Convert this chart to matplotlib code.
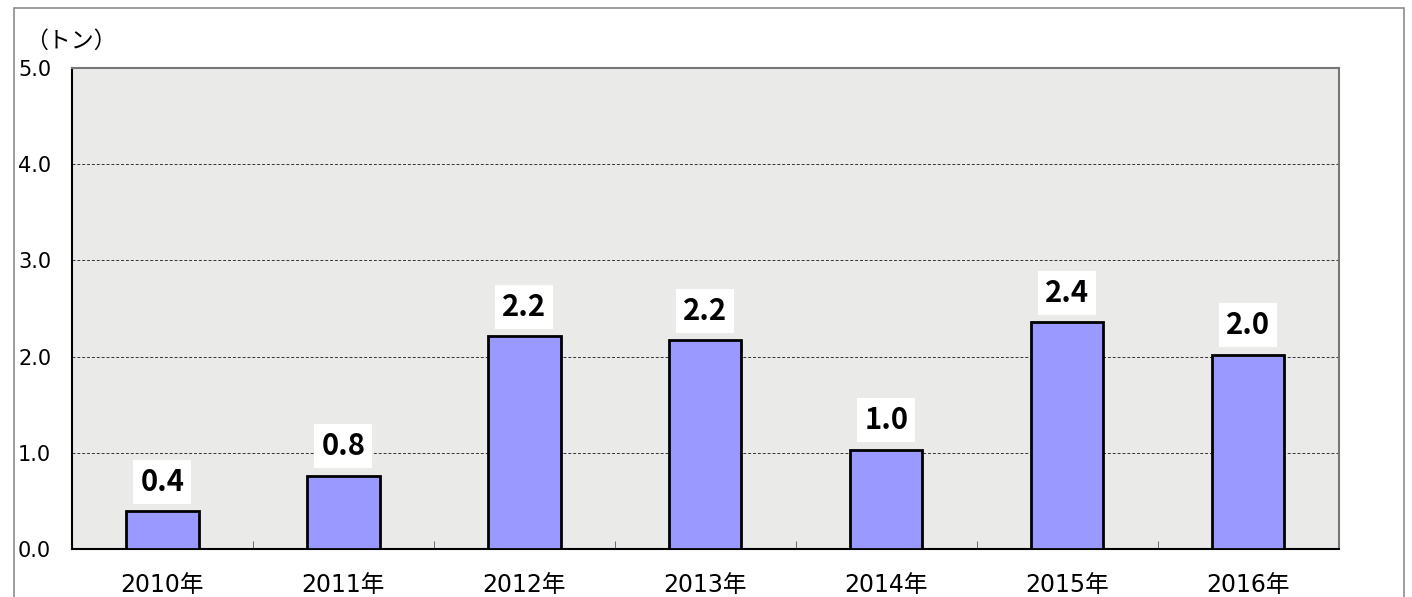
import matplotlib.pyplot as plt
import matplotlib.patches as patches
import numpy as np

plt.rcParams['font.family'] = ['DejaVu Sans', 'Noto Sans CJK JP']

# data
years = ['2010年', '2011年', '2012年', '2013年', '2014年', '2015年', '2016年']
tons = [0.39, 0.76, 2.21, 2.17, 1.03, 2.36, 2.02]
yticks = [0.0, 1.0, 2.0, 3.0, 4.0, 5.0]

fig = plt.figure(figsize=(14.12, 5.97), dpi=100)
ax = fig.add_axes([0.051, 0.0804, 0.897, 0.8057])
ax.set_facecolor('#eaeae8')

# outer frame
fig.patches.append(patches.Rectangle((14 / 1412, -0.1), 1390 / 1412, 1.087,
                                     transform=fig.transFigure, fill=False,
                                     edgecolor='#8c8c8c', linewidth=1.2))

x = np.arange(len(years))
ax.bar(x, tons, width=0.40, color='#9999ff', edgecolor='black', linewidth=2, zorder=3)

for xi, v in zip(x, tons):
    ax.text(xi, v + 0.15, f'{v:.1f}', ha='center', va='bottom', fontsize=21,
            fontweight='bold', family=['Noto Sans CJK JP', 'DejaVu Sans'], zorder=4,
            bbox=dict(facecolor='white', edgecolor='none', pad=5))

ax.set_xlim(-0.5, len(years) - 0.5)
ax.set_ylim(0, 5)
ax.set_yticks(yticks)
ax.set_yticklabels([f'{t:.1f}' for t in yticks], fontsize=15)
ax.set_xticks(x)
ax.set_xticklabels(years, fontsize=17)
ax.tick_params(axis='x', length=0, pad=17)
ax.tick_params(axis='y', length=0, pad=15)
ax.set_xticks(np.arange(0.5, len(years) - 1, 1), minor=True)
ax.tick_params(axis='x', which='minor', direction='in', length=6, color='#555555')

for t in yticks[1:-1]:
    ax.axhline(t, color='#333333', linestyle=(0, (3, 2)), linewidth=0.7, zorder=2)

for side in ['left', 'bottom']:
    ax.spines[side].set_color('black')
    ax.spines[side].set_linewidth(1.5)
for side in ['top', 'right']:
    ax.spines[side].set_color('#777777')
    ax.spines[side].set_linewidth(1.5)

fig.text(25 / 1412, 1 - 41 / 597, '（トン）', fontsize=16.5, va='center', ha='left',
         family=['Noto Sans CJK JP', 'DejaVu Sans'])

fig.savefig('out.png', dpi=100)
